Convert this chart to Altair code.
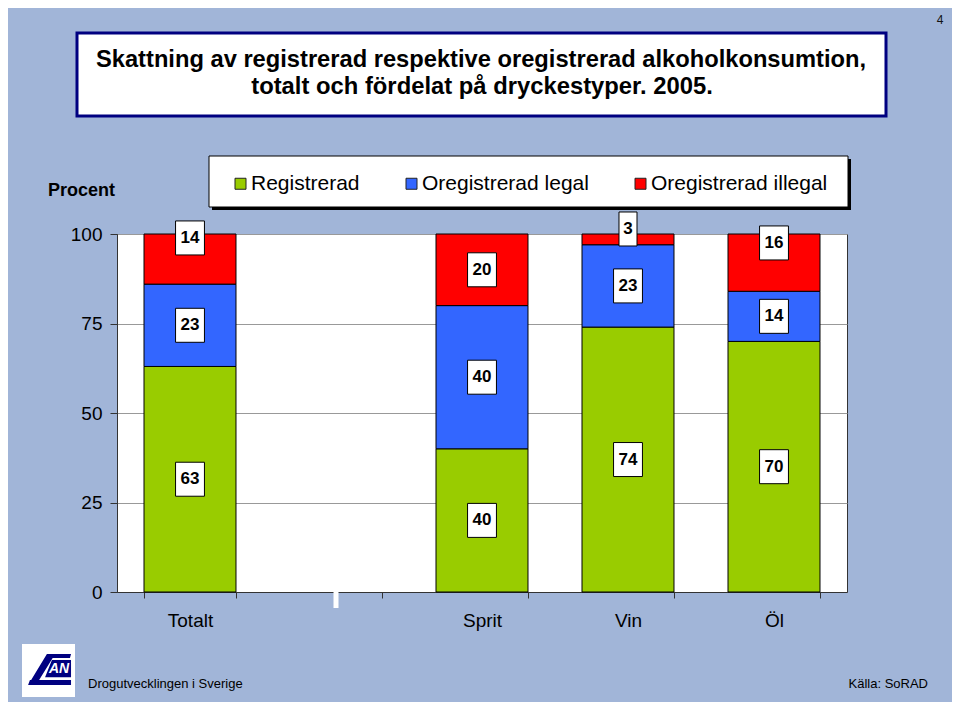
import altair as alt
import pandas as pd

# ---------------- data ----------------
categories = ["Totalt", "Sprit", "Vin", "Öl"]
axis_categories = ["Totalt", " ", "Sprit", "Vin", "Öl"]
series = ["Registrerad", "Oregistrerad legal", "Oregistrerad illegal"]
registrerad = [63, 40, 74, 70]
oregistrerad_legal = [23, 40, 23, 14]
oregistrerad_illegal = [14, 20, 3, 16]
illegal_label_at = [98.9, 90.0, 101.4, 97.5]
y_ticks = [0, 25, 50, 75, 100]
colors = ["#99CC00", "#3366FF", "#FF0000"]

title_lines = [
    "Skattning av registrerad respektive oregistrerad alkoholkonsumtion,",
    "totalt och fördelat på dryckestyper. 2005.",
]
y_title = "Procent"
footer_left = "Drogutvecklingen i Sverige"
footer_right = "Källa: SoRAD"
page_number = "4"

FONT = "Liberation Sans"
W, H = 730, 358

# ---------------- table ----------------
rows = []
for i, cat in enumerate(categories):
    base = 0
    for k, (name, vals) in enumerate(zip(series, [registrerad, oregistrerad_legal, oregistrerad_illegal])):
        v = vals[i]
        mid = base + v / 2
        if k == 2:
            mid = illegal_label_at[i]
        rows.append(dict(cat=cat, series=name, idx=k, value=v, label_y=mid,
                         text=str(v), ndig=str(len(str(v)))))
        base += v
df = pd.DataFrame(rows)
one = pd.DataFrame({"d": [0]})

x_scale = alt.Scale(domain=axis_categories, paddingInner=0.37, paddingOuter=0.185)
y_scale = alt.Scale(domain=[0, 100], nice=False, zero=True)

x_axis = alt.Axis(title=None, labelAngle=0, tickBand="extent", labelFont=FONT,
                  labelFontSize=19, labelColor="black", tickColor="#333",
                  tickSize=6, labelPadding=28, labelBaseline="alphabetic",
                  domainColor="#333", grid=False)
y_axis = alt.Axis(values=y_ticks, title=y_title, titleAngle=0, titleX=-36,
                  titleY=-44, titleAlign="center", titleBaseline="middle",
                  titleFont=FONT, titleFontSize=18, titleFontWeight="bold",
                  titleColor="black", labelFont=FONT, labelFontSize=19,
                  labelColor="black", labelPadding=8, tickSize=7,
                  tickColor="#333", grid=True, gridColor="#999",
                  domainColor="#333")

bars = alt.Chart(df).mark_bar(stroke="black", strokeWidth=1).encode(
    x=alt.X("cat:N", scale=x_scale, sort=axis_categories, axis=x_axis),
    y=alt.Y("value:Q", stack="zero", scale=y_scale, axis=y_axis),
    color=alt.Color("series:N", scale=alt.Scale(domain=series, range=colors),
                    legend=alt.Legend(title=None, orient="none", legendX=113, legendY=-61,
                                      direction="horizontal", columns=3, columnPadding=41,
                                      labelFont=FONT, labelFontSize=21, labelColor="black",
                                      labelLimit=400,
                                      symbolType="square", symbolSize=121,
                                      symbolStrokeColor="#222", symbolStrokeWidth=1,
                                      labelOffset=0, padding=0)),
    order=alt.Order("idx:Q", sort="ascending"),
)

path2 = "M-0.85,-1H0.85V1H-0.85Z"
path1 = "M-0.53,-1H0.53V1H-0.53Z"
boxes = alt.Chart(df).mark_point(filled=True, fill="white", stroke="black", strokeWidth=1,
                                 opacity=1, size=1156).encode(
    x=alt.X("cat:N", scale=x_scale, sort=axis_categories, axis=x_axis),
    y=alt.Y("label_y:Q", scale=y_scale, axis=y_axis),
    shape=alt.Shape("ndig:N", scale=alt.Scale(domain=["1", "2"], range=[path1, path2]),
                    legend=None),
)
labels = alt.Chart(df).mark_text(font=FONT, fontSize=17, fontWeight="bold", color="black",
                                 align="center", baseline="middle").encode(
    x=alt.X("cat:N", scale=x_scale, sort=axis_categories, axis=x_axis),
    y=alt.Y("label_y:Q", scale=y_scale, axis=y_axis),
    text="text:N",
)

notch = alt.Chart(one).mark_rule(color="white", strokeWidth=5).encode(
    x=alt.datum(" "), y=alt.value(H - 3), y2=alt.value(H + 16))

title_box = alt.Chart(one).mark_rect(fill="white", stroke="#000080", strokeWidth=3).encode(
    x=alt.value(-40), x2=alt.value(769), y=alt.value(-201), y2=alt.value(-118))
title1 = alt.Chart(one).mark_text(text=title_lines[0], font=FONT, fontSize=23.7, fontWeight="bold",
                                  color="black", align="center", baseline="middle").encode(
    x=alt.value(364), y=alt.value(-174))
title2 = alt.Chart(one).mark_text(text=title_lines[1], font=FONT, fontSize=23.8, fontWeight="bold",
                                  color="black", align="center", baseline="middle").encode(
    x=alt.value(365), y=alt.value(-147))

legend_shadow = alt.Chart(one).mark_rect(fill="black").encode(
    x=alt.value(95), x2=alt.value(734), y=alt.value(-75), y2=alt.value(-24))
legend_box = alt.Chart(one).mark_rect(fill="white", stroke="black", strokeWidth=1).encode(
    x=alt.value(92), x2=alt.value(731), y=alt.value(-78), y2=alt.value(-27))

page_no = alt.Chart(one).mark_text(text=page_number, font=FONT, fontSize=12, color="#111",
                                   align="center", baseline="middle").encode(
    x=alt.value(823), y=alt.value(-214))
foot_l = alt.Chart(one).mark_text(text=footer_left, font=FONT, fontSize=13, color="black",
                                  align="left", baseline="middle").encode(
    x=alt.value(-29), y=alt.value(450))
foot_r = alt.Chart(one).mark_text(text=footer_right, font=FONT, fontSize=13, color="black",
                                  align="right", baseline="middle").encode(
    x=alt.value(811), y=alt.value(450))

logo_bg = alt.Chart(one).mark_point(shape="M-1,-1H1V1H-1Z", filled=True, fill="white",
                                    opacity=1, size=2809).encode(
    x=alt.value(-68.5), y=alt.value(436.5))
logo_path = ("M-0.06,-0.62L0.85,-0.62L0.81,-0.47L-0.13,-0.47Z "
             "M-0.06,-0.62L0.25,-0.62L-0.40,0.43L-0.70,0.43Z "
             "M-0.70,0.36L0.85,0.36L0.85,0.55L-0.77,0.55Z "
             "M0.13,-0.40L0.85,-0.40L0.85,0.25L-0.13,0.25Z")
logo_shape = alt.Chart(one).mark_point(shape=logo_path, filled=True, fill="#000080",
                                       opacity=1, size=2809).encode(
    x=alt.value(-68.5), y=alt.value(436.5))
logo_text = alt.Chart(one).mark_text(text="AN", font=FONT, fontSize=14, fontWeight="bold",
                                     fontStyle="italic", color="white", align="center",
                                     baseline="middle").encode(
    x=alt.value(-58), y=alt.value(435))

chart = alt.layer(
    title_box, title1, title2, legend_shadow, legend_box,
    bars, notch, boxes, labels,
    page_no, foot_l, foot_r, logo_bg, logo_shape, logo_text,
).properties(
    width=W, height=H,
    autosize=alt.AutoSizeParams(type="none"),
    padding={"left": 109, "top": 226, "right": 105, "bottom": 110},
).configure(
    background="#A1B5D8",
).configure_view(
    fill="white", stroke="#333", strokeWidth=1,
)

chart.save("out.html", embed_options={"renderer": "svg", "actions": False})
